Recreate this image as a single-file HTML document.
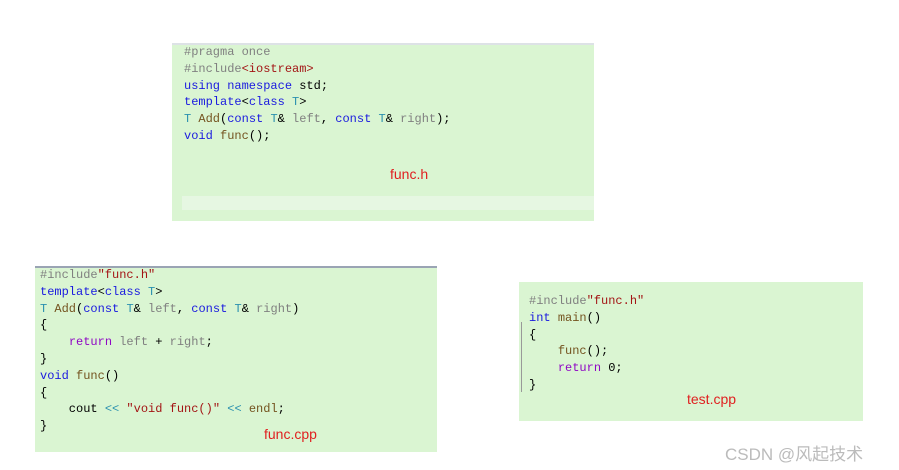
<!DOCTYPE html>
<html><head><meta charset="utf-8"><style>
html,body{margin:0;padding:0;background:#fff;}
body{width:899px;height:470px;position:relative;overflow:hidden;font-family:"Liberation Mono",monospace;}
.box{position:absolute;background:#daf5d2;}
.c{position:absolute;font-size:12px;line-height:16.8px;white-space:pre;color:#000;}
.k{color:#1a1adf}.g{color:#808080}.s{color:#a31515}.t{color:#2b91af}.p{color:#8f08c4}.f{color:#74531f}
.lab{position:absolute;font-family:"Liberation Sans",sans-serif;font-size:14px;color:#e02020;}
</style></head><body>
<div class="box" style="left:172px;top:43px;width:422px;height:176px;border-top:2px solid #dde2e6;"></div>
<div style="position:absolute;left:182px;top:196px;width:412px;height:14px;background:#e6f7e2;"></div>
<div class="c" style="left:184px;top:44px;"><span class="g">#pragma once</span>
<span class="g">#include</span><span class="s">&lt;iostream&gt;</span>
<span class="k">using namespace</span> std;
<span class="k">template</span>&lt;<span class="k">class</span> <span class="t">T</span>&gt;
<span class="t">T</span> <span class="f">Add</span>(<span class="k">const</span> <span class="t">T</span>&amp; <span class="g">left</span>, <span class="k">const</span> <span class="t">T</span>&amp; <span class="g">right</span>);
<span class="k">void</span> <span class="f">func</span>();</div>
<div class="lab" style="left:390px;top:166px;">func.h</div>

<div class="box" style="left:35px;top:266px;width:402px;height:184px;border-top:2px solid #9aa4b4;"></div>
<div class="c" style="left:40px;top:267px;"><span class="g">#include</span><span class="s">"func.h"</span>
<span class="k">template</span>&lt;<span class="k">class</span> <span class="t">T</span>&gt;
<span class="t">T</span> <span class="f">Add</span>(<span class="k">const</span> <span class="t">T</span>&amp; <span class="g">left</span>, <span class="k">const</span> <span class="t">T</span>&amp; <span class="g">right</span>)
{
    <span class="p">return</span> <span class="g">left</span> + <span class="g">right</span>;
}
<span class="k">void</span> <span class="f">func</span>()
{
    cout <span class="t">&lt;&lt;</span> <span class="s">"void func()"</span> <span class="t">&lt;&lt;</span> <span class="f">endl</span>;
}</div>
<div class="lab" style="left:264px;top:426px;">func.cpp</div>

<div class="box" style="left:519px;top:282px;width:344px;height:139px;"></div>
<div style="position:absolute;left:521px;top:322px;width:1px;height:70px;background:#999;"></div>
<div class="c" style="left:529px;top:293px;"><span class="g">#include</span><span class="s">"func.h"</span>
<span class="k">int</span> <span class="f">main</span>()
{
    <span class="f">func</span>();
    <span class="p">return</span> 0;
}</div>
<div class="lab" style="left:687px;top:391px;">test.cpp</div>

<div style="position:absolute;left:725px;top:440px;font-family:'Liberation Sans','Noto Sans CJK SC',sans-serif;font-size:17px;color:#bbb;">CSDN @风起技术</div>
</body></html>
